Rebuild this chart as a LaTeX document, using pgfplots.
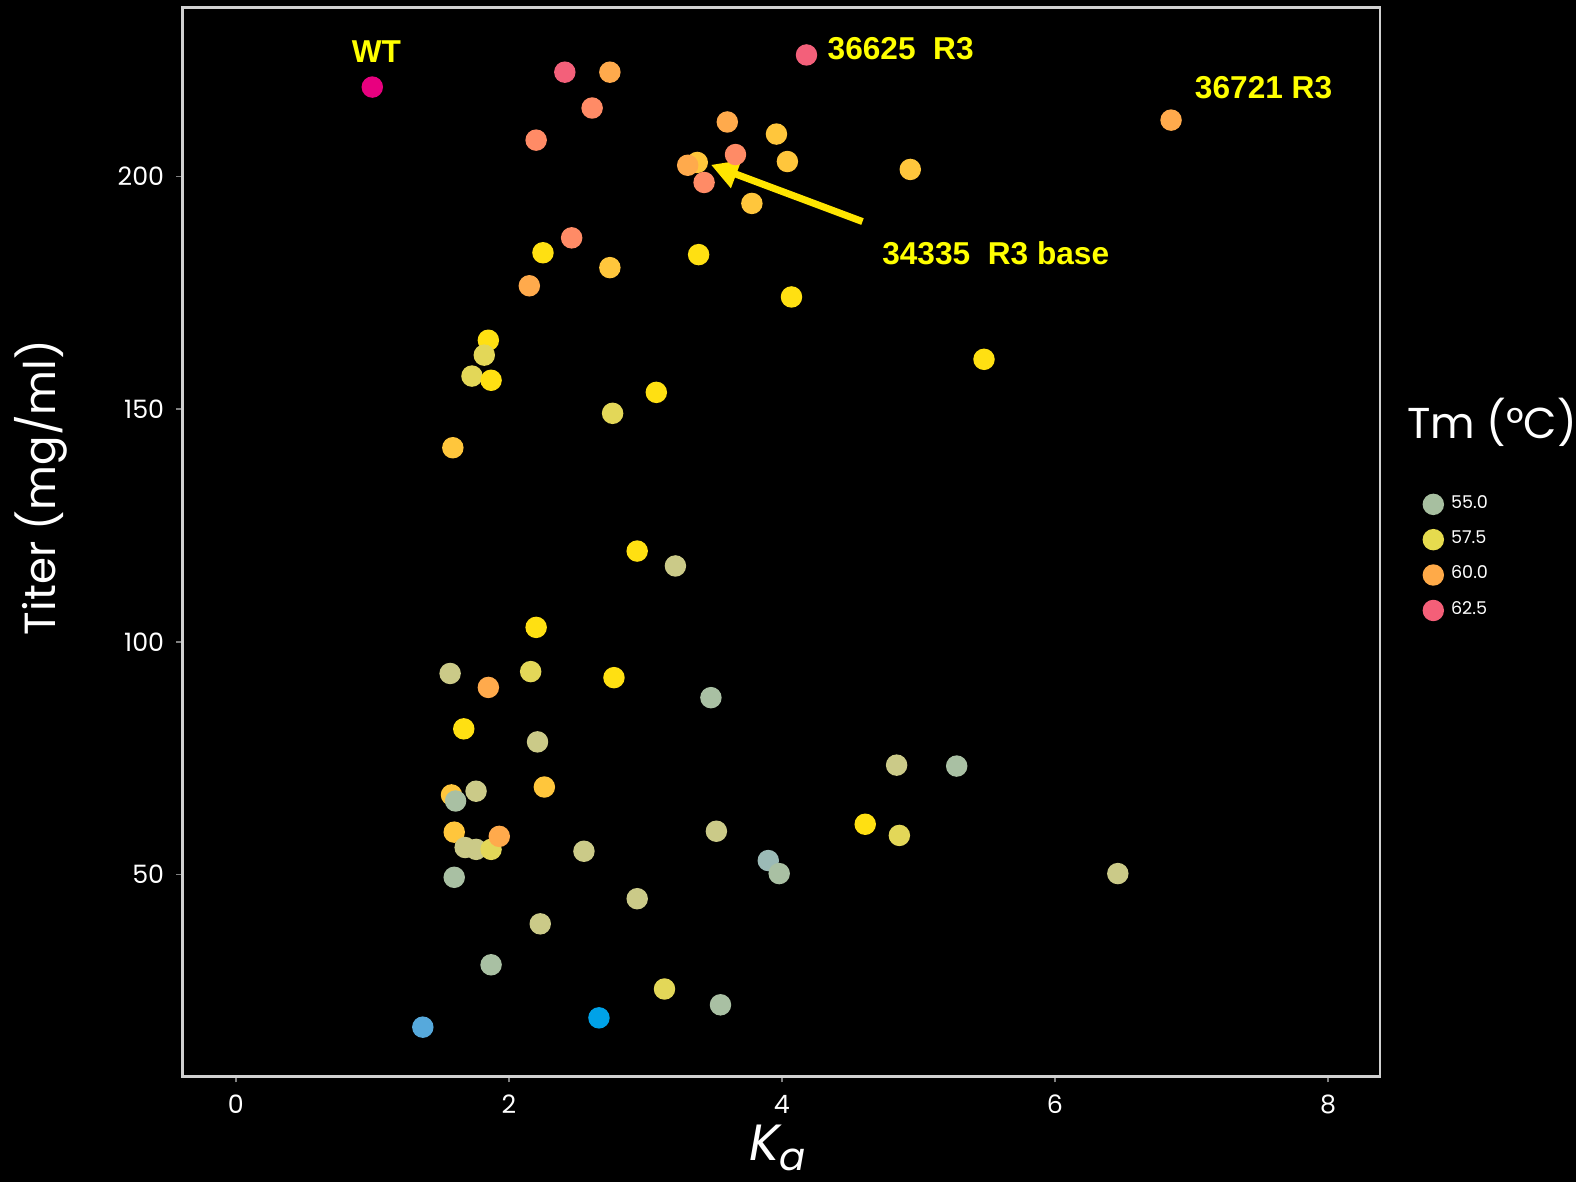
\documentclass[border=0pt]{standalone}
\usepackage{pgfplots}
\usepackage{pgfplotstable}
\pgfplotsset{compat=1.18}
\usepackage{fontspec}
\setmainfont{Poppins}
\newfontfamily\annfont{Liberation Sans}
\usetikzlibrary{arrows.meta}
\definecolor{cGG}{HTML}{A9C0A3}
\definecolor{cGB}{HTML}{9BBAB6}
\definecolor{cKH}{HTML}{CBCA88}
\definecolor{cPY}{HTML}{E3D758}
\definecolor{cBY}{HTML}{FFE012}
\definecolor{cGD}{HTML}{FFC63C}
\definecolor{cOR}{HTML}{FFAA4C}
\definecolor{cSA}{HTML}{FF8B66}
\definecolor{cPK}{HTML}{F3607A}
\definecolor{cWT}{HTML}{E8007F}
\definecolor{cBA}{HTML}{56A9DC}
\definecolor{cBB}{HTML}{00A2E8}
\definecolor{cL1}{HTML}{A7BFA0}
\definecolor{cL2}{HTML}{E6DB4E}
\definecolor{cL3}{HTML}{FFAA48}
\definecolor{cL4}{HTML}{F45F78}
\definecolor{annY}{HTML}{FFFF00}
\definecolor{arrY}{HTML}{FFE500}
\definecolor{axisgray}{HTML}{D0D0D0}

\pgfplotstableread{
x y c
1.00 219.2 wt
2.41 222.4 pk
2.74 222.4 or
2.61 214.7 sa
2.20 207.8 sa
4.18 226.1 pk
6.85 212.1 or
3.60 211.7 or
3.96 209.1 gd
3.66 204.7 sa
4.04 203.2 gd
4.94 201.5 gd
3.38 203.0 gd
3.31 202.4 or
3.43 198.7 sa
3.78 194.2 gd
2.46 186.8 sa
2.25 183.6 by
2.74 180.4 gd
3.39 183.2 by
2.15 176.5 or
4.07 174.1 by
1.85 164.8 by
1.82 161.6 py
1.73 157.1 py
1.87 156.2 by
5.48 160.7 by
3.08 153.6 by
2.76 149.1 py
1.59 141.7 gd
2.94 119.5 by
3.22 116.3 kh
2.20 103.1 by
1.57 93.2 kh
2.16 93.6 py
1.85 90.2 or
2.77 92.3 by
3.48 88.0 gg
1.67 81.3 by
2.21 78.5 kh
4.84 73.5 kh
5.28 73.3 gg
1.58 67.1 gd
1.61 65.8 gg
1.76 67.9 kh
2.26 68.8 gd
1.60 59.1 gd
1.68 55.8 kh
1.76 55.4 kh
1.87 55.4 py
1.93 58.2 or
2.55 55.0 kh
3.52 59.3 kh
4.61 60.8 by
4.86 58.4 py
3.90 53.0 gb
3.98 50.2 gg
6.46 50.2 kh
1.60 49.4 gg
2.94 44.8 kh
2.23 39.4 kh
1.87 30.6 gg
3.14 25.4 py
3.55 22.0 gg
1.37 17.2 ba
2.66 19.2 bb
}\pts

\begin{document}
\begin{tikzpicture}
\fill[black] (-1.825,-1.056) rectangle (13.935,10.765);
\begin{axis}[
  at={(0,0)}, anchor=south west,
  scale only axis, width=11.975cm, height=10.69cm,
  xmin=-0.39, xmax=8.38, ymin=6.6, ymax=236.3,
  clip=false,
  axis line style={draw=axisgray, line width=0.7pt},
  axis background/.style={fill=black},
  xtick={0,2,4,6,8}, ytick={50,100,150,200},
  xtick pos=bottom, ytick pos=left,
  tick align=outside, major tick length=0.06cm,
  tick style={draw=gray, line width=0.5pt},
  /pgf/number format/assume math mode=true,
  ticklabel style={text=white, font=\fontsize{7.2}{8}\selectfont},
  xlabel={\itshape K\raisebox{-0.35ex}{\fontsize{11}{11}\selectfont\itshape a}},
  ylabel={Titer (mg/ml)},
  xlabel style={text=white, font=\fontsize{14.5}{16}\selectfont, at={(axis description cs:0.497,-0.0665)}, anchor=center},
  ylabel style={text=white, font=\fontsize{12.4}{14}\selectfont, at={(axis description cs:-0.1186,0.551)}, anchor=center},
  legend style={at={(axis description cs:1.035,0.5575)}, anchor=north west, draw=none, fill=none, text=white,
     font=\fontsize{5}{6}\selectfont, row sep=0.9pt, inner xsep=0pt},
  legend cell align=left,
  scatter/classes={
    gg={mark=*,fill=cGG,draw=cGG},
    gb={mark=*,fill=cGB,draw=cGB},
    kh={mark=*,fill=cKH,draw=cKH},
    py={mark=*,fill=cPY,draw=cPY},
    by={mark=*,fill=cBY,draw=cBY},
    gd={mark=*,fill=cGD,draw=cGD},
    or={mark=*,fill=cOR,draw=cOR},
    sa={mark=*,fill=cSA,draw=cSA},
    pk={mark=*,fill=cPK,draw=cPK},
    wt={mark=*,fill=cWT,draw=cWT},
    ba={mark=*,fill=cBA,draw=cBA},
    bb={mark=*,fill=cBB,draw=cBB}},
]
\addplot[scatter, only marks, mark=*, mark size=2.85pt, scatter src=explicit symbolic, forget plot]
  table[x=x, y=y, meta=c] {\pts};

\addlegendimage{legend image code/.code={\fill[cL1] (0.08cm,0cm) circle (0.1cm);}}
\addlegendentry{55.0}
\addlegendimage{legend image code/.code={\fill[cL2] (0.08cm,0cm) circle (0.1cm);}}
\addlegendentry{57.5}
\addlegendimage{legend image code/.code={\fill[cL3] (0.08cm,0cm) circle (0.1cm);}}
\addlegendentry{60.0}
\addlegendimage{legend image code/.code={\fill[cL4] (0.08cm,0cm) circle (0.1cm);}}
\addlegendentry{62.5}

\draw[arrY, line width=2pt, -{Triangle[length=0.27cm, width=0.28cm]}] (axis cs:4.59,190.3) -- (axis cs:3.48,202.5);
\node[text=annY, font=\annfont\bfseries\fontsize{9}{10}\selectfont, anchor=center] at (axis cs:1.03,226.8) {WT};
\node[text=annY, font=\annfont\bfseries\fontsize{9}{10}\selectfont, anchor=west, inner sep=0pt] at (axis cs:4.33,227.4) {36625\ \ R3};
\node[text=annY, font=\annfont\bfseries\fontsize{9}{10}\selectfont, anchor=west, inner sep=0pt] at (axis cs:7.02,219.0) {36721 R3};
\node[text=annY, font=\annfont\bfseries\fontsize{9}{10}\selectfont, anchor=west, inner sep=0pt] at (axis cs:4.73,183.6) {34335\ \ R3 base};
\node[text=white, font=\fontsize{12.3}{14}\selectfont, anchor=west, inner sep=0pt] at (axis description cs:1.022,0.612) {Tm (°C)};
\end{axis}
\pgfresetboundingbox
\path[use as bounding box] (-1.825,-1.056) rectangle (13.935,10.765);
\end{tikzpicture}
\end{document}
